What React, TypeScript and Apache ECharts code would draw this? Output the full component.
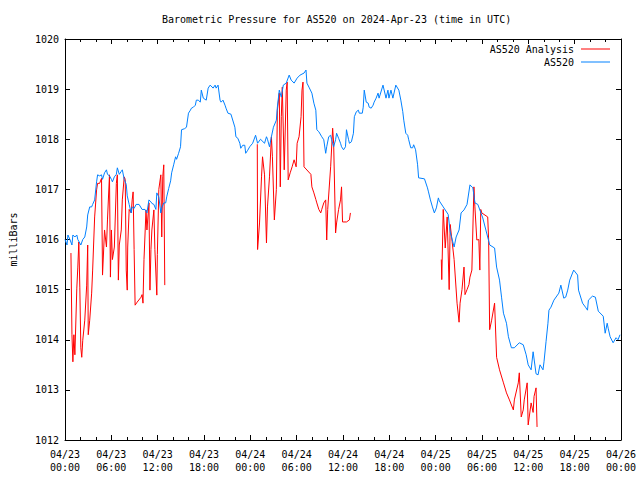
import React, { useEffect, useRef } from "react";
import * as echarts from "echarts";

const title = "Barometric Pressure for AS520 on 2024-Apr-23 (time in UTC)";
const yAxisName = "milliBars";
const xTickLabels = [
  "04/23\n00:00", "04/23\n06:00", "04/23\n12:00", "04/23\n18:00",
  "04/24\n00:00", "04/24\n06:00", "04/24\n12:00", "04/24\n18:00",
  "04/25\n00:00", "04/25\n06:00", "04/25\n12:00", "04/25\n18:00",
  "04/26\n00:00",
];
const seriesNames = ["AS520 Analysis", "AS520"];

// [hours since 04/23 00:00 UTC, millibars]
const as520 = [
  [0,1016.0],[0.26,1015.89],[0.38,1016.09],[0.64,1016.0],[0.9,1015.89],[1.02,1016.09],[1.28,1016.05],[1.53,1016.09],[1.66,1016.0],[2.05,1015.89],[2.3,1016.0],[2.56,1016.05],[2.81,1016.25],[2.94,1016.49],[3.2,1016.65],[3.45,1016.65],[3.58,1016.7],[3.84,1016.79],[4.09,1017.15],[4.22,1017.29],[4.48,1017.27],[4.73,1017.29],[4.86,1017.2],[5.12,1017.33],[5.37,1017.39],[5.5,1017.3],[5.76,1017.27],[6.01,1017.2],[6.14,1017.15],[6.39,1017.25],[6.65,1017.3],[6.78,1017.43],[7.03,1017.3],[7.29,1017.36],[7.42,1017.39],[7.67,1017.2],[7.93,1017.1],[8.06,1016.87],[8.31,1016.7],[8.57,1016.53],[8.7,1016.65],[8.95,1016.62],[9.21,1016.7],[9.59,1016.7],[9.98,1016.6],[10.36,1016.6],[10.61,1016.53],[10.87,1016.79],[11.13,1016.75],[11.25,1016.72],[11.51,1016.7],[11.77,1016.6],[11.89,1016.93],[12.15,1016.85],[12.41,1016.53],[12.53,1016.63],[12.79,1016.73],[13.04,1016.73],[13.17,1016.85],[13.43,1017.02],[13.68,1017.17],[13.81,1017.33],[14.07,1017.49],[14.32,1017.65],[14.45,1017.6],[14.71,1017.72],[14.96,1017.85],[15.09,1018.19],[15.47,1018.21],[15.73,1018.24],[15.99,1018.52],[16.24,1018.58],[16.37,1018.62],[16.63,1018.64],[16.88,1018.68],[17.01,1018.78],[17.27,1018.78],[17.52,1018.74],[17.65,1018.98],[17.91,1018.82],[18.29,1018.78],[18.54,1019.02],[18.8,1019.08],[19.18,1019.02],[19.44,1019.08],[19.57,1019.02],[19.82,1019.08],[20.08,1018.78],[20.21,1018.74],[20.46,1018.78],[20.72,1018.68],[20.85,1018.62],[21.1,1018.52],[21.49,1018.5],[22.0,1018.24],[22.13,1018.05],[22.38,1018.02],[22.64,1017.92],[22.76,1017.82],[23.02,1017.88],[23.28,1017.88],[23.4,1017.72],[23.66,1017.78],[23.92,1017.85],[24.3,1017.92],[24.68,1018.08],[24.94,1017.92],[25.32,1018.0],[25.84,1017.92],[26.09,1018.05],[26.22,1018.0],[26.48,1017.85],[26.73,1018.05],[26.99,1018.24],[27.37,1018.38],[27.5,1018.64],[27.75,1018.98],[28.01,1018.84],[28.27,1019.08],[28.65,1019.12],[29.03,1019.28],[29.29,1019.18],[29.67,1019.12],[30.06,1019.22],[30.44,1019.28],[30.95,1019.32],[31.21,1019.38],[31.33,1019.12],[31.59,1019.04],[31.97,1018.92],[32.23,1018.72],[32.48,1018.58],[32.61,1018.19],[32.87,1018.15],[33.25,1018.05],[33.51,1017.99],[33.76,1017.72],[33.89,1017.85],[34.15,1018.05],[34.4,1018.08],[34.53,1017.99],[34.79,1017.85],[35.04,1017.99],[35.17,1018.12],[35.43,1018.02],[35.68,1017.92],[35.81,1017.85],[36.07,1017.79],[36.32,1017.85],[36.45,1018.19],[36.71,1018.0],[36.83,1017.92],[37.09,1017.95],[37.35,1018.12],[37.47,1018.45],[37.73,1018.55],[37.99,1018.58],[38.11,1018.52],[38.5,1018.52],[38.62,1018.64],[38.75,1018.98],[39.01,1018.74],[39.26,1018.72],[39.39,1018.64],[39.65,1018.62],[39.9,1018.68],[40.03,1018.74],[40.29,1018.82],[40.54,1018.92],[40.67,1018.82],[41.18,1019.08],[41.57,1018.82],[41.82,1018.98],[41.95,1018.82],[42.21,1018.98],[42.46,1018.82],[42.84,1019.08],[43.23,1018.98],[43.49,1018.78],[43.74,1018.55],[43.87,1018.38],[44.13,1018.12],[44.38,1018.08],[44.51,1017.99],[44.77,1017.83],[45.02,1017.83],[45.15,1017.89],[45.4,1017.79],[45.66,1017.49],[45.79,1017.23],[46.55,1017.21],[46.94,1017.03],[47.07,1016.95],[47.32,1016.79],[47.58,1016.65],[47.83,1016.53],[48.09,1016.63],[48.35,1016.83],[48.47,1016.77],[48.98,1016.65],[49.62,1016.5],[49.88,1016.15],[50.39,1015.85],[50.65,1016.05],[51.03,1016.19],[51.29,1016.53],[51.67,1016.59],[52.06,1016.7],[52.44,1017.09],[52.82,1017.03],[53.08,1016.73],[53.46,1016.7],[54.1,1016.43],[55.0,1015.89],[55.63,1015.83],[55.89,1015.45],[56.27,1015.19],[56.53,1014.85],[56.78,1014.53],[57.17,1014.33],[57.42,1014.06],[57.81,1013.84],[58.19,1013.84],[58.83,1013.94],[59.34,1013.9],[59.72,1013.7],[59.98,1013.5],[60.36,1013.4],[60.62,1013.76],[61.0,1013.32],[61.26,1013.3],[61.51,1013.5],[61.9,1013.4],[62.03,1013.56],[62.29,1013.96],[62.54,1014.33],[62.67,1014.59],[62.93,1014.65],[63.31,1014.79],[63.95,1014.93],[64.21,1015.09],[64.59,1014.83],[64.84,1014.85],[65.1,1014.99],[65.36,1015.19],[65.87,1015.39],[66.38,1015.29],[66.5,1014.99],[67.02,1014.73],[67.4,1014.65],[67.66,1014.59],[67.78,1014.79],[68.3,1014.87],[68.68,1014.85],[69.06,1014.57],[69.7,1014.47],[69.95,1014.13],[70.21,1014.33],[70.34,1014.23],[70.59,1014.06],[70.98,1013.94],[71.36,1014.04],[71.62,1014.0],[71.87,1014.1],
];

const analysisRun1 = [
  [0.77,1015.73],[0.9,1014.1],[1.02,1013.56],[1.15,1014.1],[1.28,1013.7],[1.53,1015.03],[1.66,1015.45],[1.79,1015.95],[1.92,1015.05],[2.05,1013.84],[2.17,1013.65],[2.3,1013.99],[2.56,1014.39],[2.81,1015.09],[2.94,1015.89],[3.01,1014.1],[3.2,1014.39],[3.45,1014.93],[3.58,1015.39],[3.84,1016.45],[4.09,1016.99],[4.22,1017.12],[4.48,1017.12],[4.73,1017.22],[4.8,1016.19],[4.86,1015.29],[5.12,1016.19],[5.37,1015.85],[5.5,1016.39],[5.76,1017.29],[5.88,1015.25],[6.01,1016.19],[6.14,1015.6],[6.39,1015.85],[6.65,1017.12],[6.78,1017.29],[6.91,1015.19],[7.03,1015.89],[7.29,1016.19],[7.42,1016.79],[7.67,1017.25],[7.8,1017.2],[7.93,1015.39],[8.06,1014.99],[8.12,1015.85],[8.31,1016.6],[8.57,1016.53],[8.7,1016.79],[8.82,1016.95],[8.95,1015.8],[9.08,1014.69],[9.34,1014.75],[9.85,1014.85],[9.98,1014.9],[10.1,1014.73],[10.23,1015.6],[10.49,1016.59],[10.61,1016.19],[10.87,1016.73],[11.0,1014.99],[11.13,1015.8],[11.25,1016.19],[11.51,1016.59],[11.64,1015.8],[11.89,1014.89],[11.96,1015.7],[12.15,1017.0],[12.41,1017.29],[12.53,1016.05],[12.66,1017.25],[12.79,1017.49],[12.92,1015.09],
];
const analysisRun2 = [
  [24.9,1017.9],[24.94,1015.8],[25.19,1016.33],[25.45,1017.25],[25.58,1017.65],[25.84,1017.29],[26.09,1015.93],[26.22,1016.65],[26.48,1017.25],[26.73,1018.05],[26.86,1017.65],[27.11,1016.39],[27.37,1017.0],[27.5,1018.58],[27.75,1018.92],[27.88,1017.05],[28.01,1018.45],[28.14,1019.04],[28.39,1017.39],[28.65,1018.98],[28.77,1019.14],[28.9,1017.19],[29.16,1017.33],[29.41,1017.45],[29.67,1017.59],[29.93,1017.45],[30.06,1017.92],[30.31,1018.05],[30.57,1018.45],[30.69,1018.98],[30.82,1019.14],[30.95,1017.45],[31.84,1017.3],[31.97,1017.05],[32.23,1016.93],[32.48,1016.8],[32.61,1016.73],[32.87,1016.6],[33.12,1016.53],[33.25,1016.6],[33.51,1016.73],[33.76,1016.79],[33.89,1015.99],[34.02,1016.6],[34.4,1017.45],[34.66,1018.22],[34.79,1017.92],[35.04,1016.13],[35.17,1016.33],[35.43,1016.6],[35.68,1016.79],[35.81,1017.05],[35.94,1016.35],[36.45,1016.35],[36.83,1016.39],[36.96,1016.53],
];
const analysisRun3 = [
  [48.73,1015.6],[48.79,1015.2],[48.98,1016.6],[49.24,1015.83],[49.49,1016.45],[49.75,1015.0],[49.88,1016.3],[50.13,1015.96],[50.39,1015.6],[50.77,1014.73],[51.03,1014.35],[51.16,1014.73],[51.41,1015.0],[51.67,1015.45],[51.8,1014.9],[52.06,1015.0],[52.31,1015.1],[52.44,1015.25],[52.69,1015.39],[52.95,1017.05],[53.08,1016.65],[53.33,1015.99],[53.59,1016.0],[53.72,1015.39],[53.84,1016.6],[53.97,1016.53],[54.74,1016.45],[54.86,1015.99],[54.99,1014.2],[55.25,1014.39],[55.63,1014.73],[55.89,1013.65],[56.27,1013.4],[56.78,1013.14],[57.17,1012.94],[57.55,1012.8],[58.06,1012.6],[58.19,1012.8],[58.7,1013.14],[58.83,1013.34],[59.08,1012.46],[59.34,1012.6],[59.47,1012.8],[59.85,1013.14],[59.98,1012.3],[60.36,1012.74],[60.62,1012.55],[60.74,1012.87],[61.0,1013.04],[61.13,1012.26],
];

const FONT = "'DejaVu Sans Mono', monospace";

export default function App() {
  const ref = useRef<HTMLDivElement>(null);
  useEffect(() => {
    if (!ref.current) return;
    const chart = echarts.init(ref.current, null, { renderer: "svg" });
    const analysisData = [
      ...analysisRun1,
      [18, "-"],
      ...analysisRun2,
      [42, "-"],
      ...analysisRun3,
    ];
    const xCommon = {
      type: "value",
      min: 0,
      max: 72,
      interval: 6,
      axisLine: { show: true, onZero: false, lineStyle: { color: "#000", width: 1 } },
      axisTick: { show: true, inside: true, length: 5, lineStyle: { color: "#000" } },
      minorTick: { show: true, splitNumber: 3, length: 3, lineStyle: { color: "#000" } },
      splitLine: { show: false },
    };
    const yCommon = {
      type: "value",
      min: 1012,
      max: 1020,
      interval: 1,
      axisLine: { show: true, onZero: false, lineStyle: { color: "#000", width: 1 } },
      axisTick: { show: true, inside: true, length: 5, lineStyle: { color: "#000" } },
      splitLine: { show: false },
    };
    const legendCommon = {
      right: 30,
      align: "right",
      icon: "rect",
      itemWidth: 29,
      itemHeight: 1,
      itemGap: 0,
      padding: 0,
      textStyle: { fontFamily: FONT, fontSize: 10, color: "#000", padding: [0, 2, 0, 0] },
    };
    chart.setOption({
      animation: false,
      backgroundColor: "#fff",
      title: {
        text: title,
        left: 162,
        top: 14,
        padding: 0,
        textStyle: { fontFamily: FONT, fontSize: 10, fontWeight: "normal", color: "#000" },
      },
      legend: [
        { ...legendCommon, data: [seriesNames[0]], top: 44 },
        { ...legendCommon, data: [seriesNames[1]], top: 57 },
      ],
      grid: { left: 58, right: 19, top: 39, bottom: 40, containLabel: false },
      xAxis: [
        {
          ...xCommon,
          position: "bottom",
          axisLabel: {
            show: true,
            margin: 8,
            fontFamily: FONT,
            fontSize: 10,
            lineHeight: 13,
            color: "#000",
            formatter: (v: number) => xTickLabels[Math.round(v / 6)] ?? "",
          },
        },
        { ...xCommon, position: "top", axisLabel: { show: false } },
      ],
      yAxis: [
        {
          ...yCommon,
          position: "left",
          name: yAxisName,
          nameLocation: "middle",
          nameGap: 47,
          nameRotate: 90,
          nameTextStyle: { fontFamily: FONT, fontSize: 10, color: "#000" },
          axisLabel: {
            show: true,
            margin: 6,
            fontFamily: FONT,
            fontSize: 10,
            color: "#000",
            formatter: (v: number) => String(v),
          },
        },
        { ...yCommon, position: "right", axisLabel: { show: false } },
      ],
      series: [
        {
          name: seriesNames[0],
          type: "line",
          data: analysisData,
          showSymbol: false,
          symbol: "none",
          connectNulls: false,
          color: "#ff0000",
          lineStyle: { color: "#ff0000", width: 1 },
        },
        {
          name: seriesNames[1],
          type: "line",
          data: as520,
          showSymbol: false,
          symbol: "none",
          color: "#0080ff",
          lineStyle: { color: "#0080ff", width: 1 },
        },
      ],
    });
    return () => chart.dispose();
  }, []);
  return (
    <div
      ref={ref}
      style={{ position: "fixed", left: 0, top: 0, width: 640, height: 480, background: "#fff" }}
    />
  );
}
